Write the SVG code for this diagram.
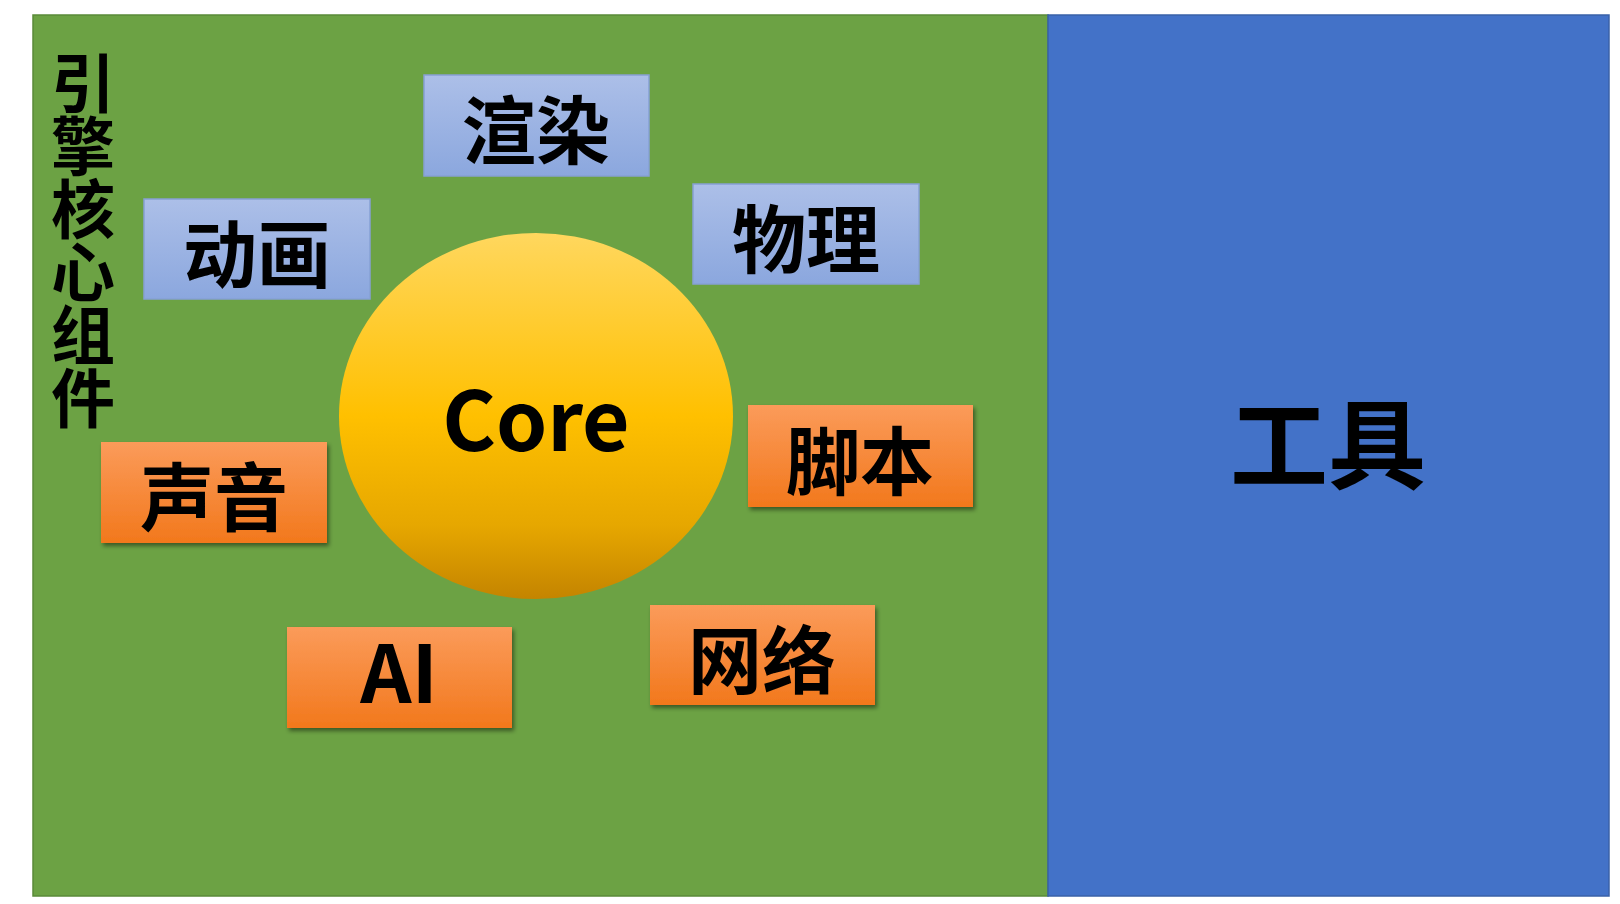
<svg xmlns="http://www.w3.org/2000/svg" width="1620" height="904" viewBox="0 0 1620 904">
<defs>
<linearGradient id="gBlue" x1="0" y1="0" x2="0" y2="1">
<stop offset="0" stop-color="#acbfe8"/>
<stop offset="1" stop-color="#8ba7de"/>
</linearGradient>
<linearGradient id="gOrange" x1="0" y1="0" x2="0" y2="1">
<stop offset="0" stop-color="#fb9b5a"/>
<stop offset="1" stop-color="#f2781c"/>
</linearGradient>
<linearGradient id="gCore" x1="0" y1="0" x2="0" y2="1">
<stop offset="0" stop-color="#ffd75e"/>
<stop offset="0.5" stop-color="#ffc000"/>
<stop offset="0.8" stop-color="#e6a700"/>
<stop offset="1" stop-color="#c48400"/>
</linearGradient>
<filter id="sh" x="-10%" y="-10%" width="125%" height="130%">
<feDropShadow dx="2" dy="3" stdDeviation="2" flood-color="#000" flood-opacity="0.45"/>
</filter>
</defs>
<style>
.blue{fill:url(#gBlue);stroke:#86a0d4;stroke-width:1.5}
.orange{fill:url(#gOrange);filter:url(#sh)}
.lbl{font-family:"Noto Sans CJK SC","Noto Sans",sans-serif;font-weight:700;font-size:74px;fill:#000;text-anchor:middle;dominant-baseline:central}
.lat{font-family:"Noto Sans CJK SC","Noto Sans",sans-serif;font-weight:700;fill:#000;text-anchor:middle}
.vert{font-family:"Noto Sans CJK SC","Noto Sans",sans-serif;font-weight:700;font-size:64px;fill:#000;writing-mode:vertical-rl;letter-spacing:-1px}
</style>
<rect width="1620" height="904" fill="#ffffff"/>
<g id="engine-panel">
<rect x="33" y="15" width="1015" height="881" fill="#6ca244" stroke="#5a8a38" stroke-width="1.5"/>
<text class="vert" x="83" y="51">引擎核心组件</text>
</g>
<g id="tools-panel">
<rect x="1048" y="15" width="561" height="881" fill="#4372c8" stroke="#3a62a8" stroke-width="1.5"/>
<text class="lbl" x="1328" y="438" style="font-size:98px">工具</text>
</g>
<g id="connectors"></g>
<g id="core">
<ellipse cx="536" cy="416" rx="197" ry="183" fill="url(#gCore)"/>
<text class="lat" x="536" y="451" font-size="82">Core</text>
</g>
<g id="render">
<rect class="blue" x="424" y="75" width="225" height="101"/>
<text class="lbl" x="536" y="125">渲染</text>
</g>
<g id="animation">
<rect class="blue" x="144" y="199" width="226" height="100"/>
<text class="lbl" x="257" y="249">动画</text>
</g>
<g id="physics">
<rect class="blue" x="693" y="184" width="226" height="100"/>
<text class="lbl" x="806" y="234">物理</text>
</g>
<g id="script">
<rect class="orange" x="748" y="405" width="225" height="102"/>
<text class="lbl" x="860" y="456">脚本</text>
</g>
<g id="sound">
<rect class="orange" x="101" y="442" width="226" height="101"/>
<text class="lbl" x="214" y="492">声音</text>
</g>
<g id="ai">
<rect class="orange" x="287" y="627" width="225" height="101"/>
<text class="lat" x="399" y="703" font-size="80">AI</text>
</g>
<g id="network">
<rect class="orange" x="650" y="605" width="225" height="100"/>
<text class="lbl" x="762" y="655">网络</text>
</g>
</svg>
